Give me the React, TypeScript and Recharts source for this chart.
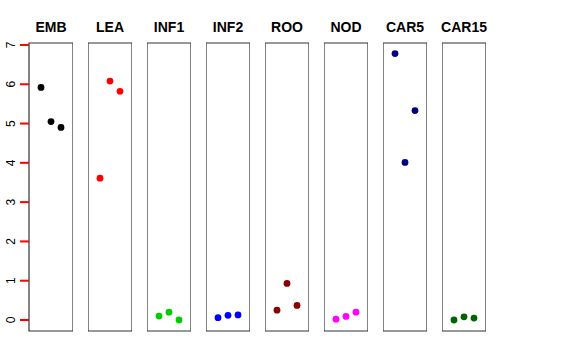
import React from 'react';
import { ScatterChart, Scatter, XAxis, YAxis, ReferenceArea } from 'recharts';

const groups = ['EMB', 'LEA', 'INF1', 'INF2', 'ROO', 'NOD', 'CAR5', 'CAR15'];
const colors = ['#000000', '#ff0000', '#00cd00', '#0000ff', '#8b0000', '#ff00ff', '#000080', '#006400'];
const reps = [1, 2, 3];

const embValues = [5.92, 5.05, 4.9];
const leaValues = [3.61, 6.08, 5.82];
const inf1Values = [0.1, 0.2, 0.0];
const inf2Values = [0.06, 0.12, 0.13];
const rooValues = [0.25, 0.93, 0.37];
const nodValues = [0.02, 0.09, 0.2];
const car5Values = [6.78, 4.01, 5.33];
const car15Values = [0.0, 0.08, 0.05];

const allValues = [embValues, leaValues, inf1Values, inf2Values, rooValues, nodValues, car5Values, car15Values];
const yTicks = [0, 1, 2, 3, 4, 5, 6, 7];

const X_DOMAIN: [number, number] = [-0.2, 4.2];
const Y_DOMAIN: [number, number] = [-0.28, 7.05];

const PANEL_W = 44;
const STEP = 59;
const FIRST_LEFT = 29;
const TOP = 43;
const BOTTOM = 29;
const H = 360;

function renderTick(props: any) {
  const { y, payload } = props;
  return (
    <g key={`tick-${payload.value}`}>
      <rect x={20} y={y - 1} width={9} height={2} fill="#ff0000" />
      <text
        x={11}
        y={y}
        textAnchor="middle"
        dominantBaseline="central"
        fontSize={12}
        fontFamily="Liberation Sans, Arial, sans-serif"
        fill="#000"
        transform={`rotate(-90, 11, ${y})`}
      >
        {payload.value}
      </text>
    </g>
  );
}

function Panel({ idx }: { idx: number }) {
  const first = idx === 0;
  const data = reps.map((r, i) => ({ x: r, y: allValues[idx][i] }));
  const left = first ? 0 : FIRST_LEFT + STEP * idx;
  const width = first ? FIRST_LEFT + PANEL_W : PANEL_W;
  return (
    <div style={{ position: 'absolute', left, top: 0, width, height: H }}>
      <div
        style={{
          position: 'absolute',
          left: first ? FIRST_LEFT - 20 : -20,
          width: PANEL_W + 40,
          top: 19,
          textAlign: 'center',
          fontFamily: 'Liberation Sans, Arial, sans-serif',
          fontWeight: 'bold',
          fontSize: 14,
        }}
      >
        {groups[idx]}
      </div>
      <ScatterChart width={width} height={H} margin={{ top: TOP, bottom: BOTTOM, left: 0, right: 0 }}>
        <XAxis type="number" dataKey="x" domain={X_DOMAIN} hide allowDataOverflow />
        <YAxis
          type="number"
          dataKey="y"
          domain={Y_DOMAIN}
          ticks={yTicks}
          hide={!first}
          width={FIRST_LEFT}
          allowDataOverflow
          axisLine={false}
          tickLine={false}
          tick={renderTick}
          interval={0}
        />
        <ReferenceArea
          x1={X_DOMAIN[0]}
          x2={X_DOMAIN[1]}
          y1={Y_DOMAIN[0]}
          y2={Y_DOMAIN[1]}
          fill="none"
          fillOpacity={0}
          stroke="#333"
          strokeOpacity={1}
          strokeWidth={1.2}
          ifOverflow="visible"
        />
        <Scatter
          data={data}
          fill={colors[idx]}
          isAnimationActive={false}
          shape={(p: any) => <circle cx={p.cx} cy={p.cy} r={3.4} fill={colors[idx]} />}
        />
      </ScatterChart>
    </div>
  );
}

export default function App() {
  return (
    <div style={{ position: 'absolute', left: 0, top: 0, width: 576, height: 360, background: '#fff' }}>
      {groups.map((g, i) => (
        <Panel key={g} idx={i} />
      ))}
    </div>
  );
}
